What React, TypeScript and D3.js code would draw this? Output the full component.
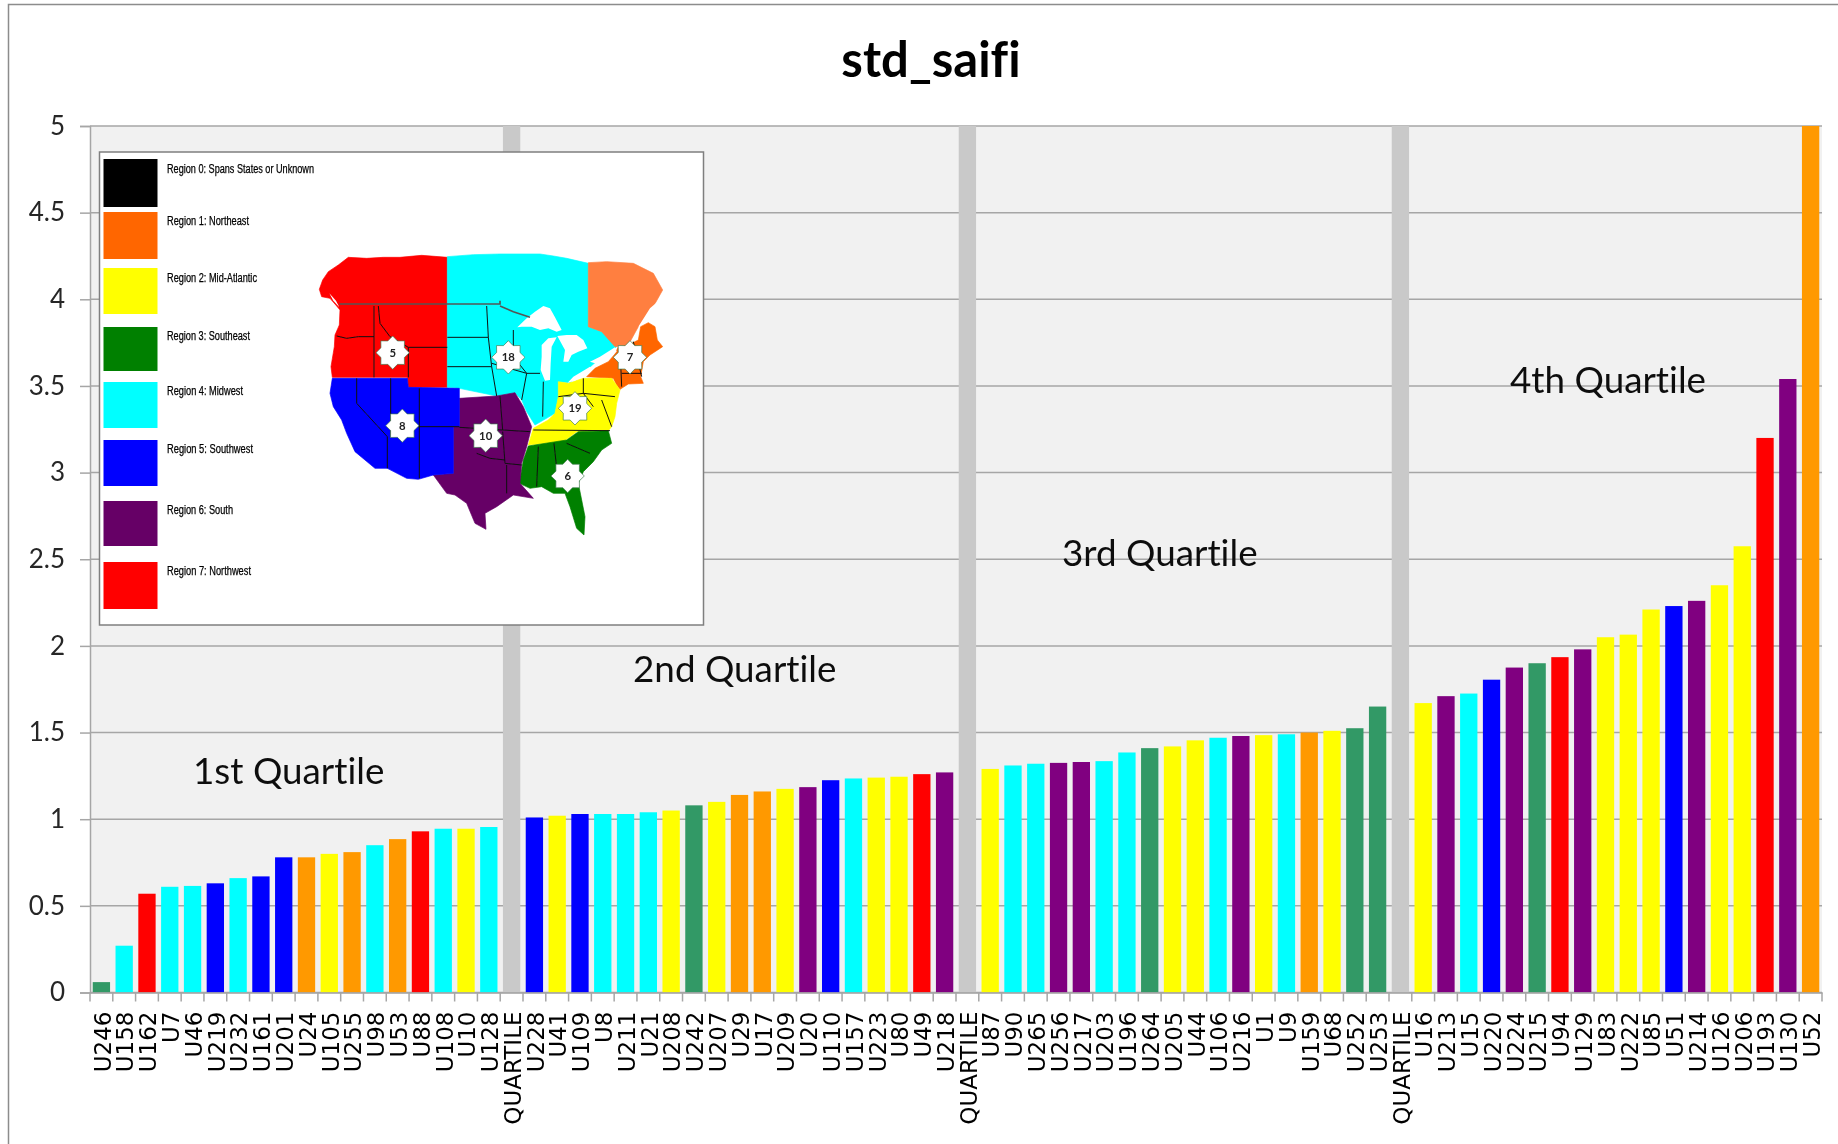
import { useEffect, useRef } from "react";
import * as d3 from "d3";

const W = 1838;
const H = 1144;

const categories = [
  "U246", "U158", "U162", "U7", "U46", "U219", "U232", "U161", "U201", "U24", "U105", "U255", "U98", "U53", "U88", "U108", "U10", "U128", "QUARTILE",
  "U228", "U41", "U109", "U8", "U211", "U21", "U208", "U242", "U207", "U29", "U17", "U209", "U20", "U110", "U157", "U223", "U80", "U49", "U218", "QUARTILE ",
  "U87", "U90", "U265", "U256", "U217", "U203", "U196", "U264", "U205", "U44", "U106", "U216", "U1", "U9", "U159", "U68", "U252", "U253", "QUARTILE  ",
  "U16", "U213", "U15", "U220", "U224", "U215", "U94", "U129", "U83", "U222", "U85", "U51", "U214", "U126", "U206", "U193", "U130", "U52",
];

const values = [
  0.06, 0.27, 0.57, 0.61, 0.615, 0.63, 0.66, 0.67, 0.78, 0.78, 0.8, 0.81, 0.85, 0.885, 0.93, 0.945, 0.945, 0.955, 5,
  1.01, 1.02, 1.03, 1.03, 1.03, 1.04, 1.05, 1.08, 1.1, 1.14, 1.16, 1.175, 1.185, 1.225, 1.235, 1.24, 1.245, 1.26, 1.27, 5,
  1.29, 1.31, 1.32, 1.325, 1.33, 1.335, 1.385, 1.41, 1.42, 1.455, 1.47, 1.48, 1.485, 1.49, 1.5, 1.51, 1.525, 1.65, 5,
  1.67, 1.71, 1.725, 1.805, 1.875, 1.9, 1.935, 1.98, 2.05, 2.065, 2.21, 2.23, 2.26, 2.35, 2.575, 3.2, 3.54, 5,
];

// g green, c cyan, r red, b blue, o orange, y yellow, p purple, q quartile marker
const regionCodes =
  "gcrccbcbboyocorcyc" + "q" +
  "bybcccygyooypbcyyrp" + "q" +
  "yccppccgyycpycoygg" + "q" +
  "ypcbpgrpyyybpyyrpo";

const codeColor: Record<string, string> = {
  g: "#339966",
  c: "#00ffff",
  r: "#ff0000",
  b: "#0000ff",
  o: "#ff9900",
  y: "#ffff00",
  p: "#800080",
  q: "#c9c9c9",
};

const yTicks = [0, 0.5, 1, 1.5, 2, 2.5, 3, 3.5, 4, 4.5, 5];

const quartileNotes = [
  { text: "1st Quartile", x: 193, y: 784 },
  { text: "2nd Quartile", x: 633, y: 682 },
  { text: "3rd Quartile", x: 1062, y: 566 },
  { text: "4th Quartile", x: 1510, y: 393 },
];

const legendNames = [
  "Region 0:  Spans States or Unknown",
  "Region 1:  Northeast",
  "Region 2:  Mid-Atlantic",
  "Region 3:  Southeast",
  "Region 4:  Midwest",
  "Region 5:  Southwest",
  "Region 6:  South",
  "Region 7:  Northwest",
];
const legendColors = ["#000000", "#ff6600", "#ffff00", "#008000", "#00ffff", "#0000ff", "#660066", "#ff0000"];
const legendTop = [159, 212, 268, 327, 382, 440, 501, 562];
const legendBottom = [207, 259, 314, 371, 428, 486, 546, 609];
const legendTextY = [173, 225, 282, 340, 395, 453, 514, 575];
const legendTextW = [147, 82, 90, 83, 76, 86, 66, 84];

// inset map outlines, traced in 3x crop pixels
type Pts = [number, number][];
const mapRegions: { fill: string; pts: Pts }[] = [
  { fill: "#ff0000", pts: [[58, 178], [68, 150], [85, 125], [115, 105], [145, 82], [200, 85], [250, 82], [300, 82], [365, 76], [442, 82], [442, 472], [325, 472], [322, 442], [97, 442], [93, 410], [103, 350], [105, 315], [118, 285], [120, 240], [110, 228], [90, 205], [65, 200]] },
  { fill: "#00ffff", pts: [[442, 80], [520, 74], [600, 72], [720, 72], [760, 78], [800, 85], [865, 100], [865, 290], [905, 305], [935, 335], [950, 350], [900, 385], [860, 420], [810, 458], [775, 455], [775, 500], [765, 550], [705, 585], [680, 545], [665, 510], [645, 488], [590, 498], [478, 475], [442, 472]] },
  { fill: "#ff7f40", pts: [[865, 98], [920, 95], [1000, 100], [1060, 130], [1088, 180], [1060, 230], [1015, 290], [985, 345], [945, 350], [905, 305], [865, 290]] },
  { fill: "#ff6600", pts: [[860, 440], [885, 415], [925, 395], [945, 372], [955, 350], [985, 345], [1015, 330], [1022, 290], [1045, 278], [1065, 290], [1072, 330], [1088, 350], [1050, 375], [1030, 395], [1022, 440], [1030, 460], [985, 462], [960, 478], [950, 465], [940, 445]] },
  { fill: "#ffff00", pts: [[775, 455], [805, 460], [850, 445], [935, 445], [960, 480], [950, 520], [945, 560], [935, 590], [925, 602], [830, 605], [790, 635], [685, 645], [700, 595], [745, 570], [765, 550], [775, 500]] },
  { fill: "#008000", pts: [[685, 648], [800, 630], [835, 605], [925, 602], [935, 640], [905, 660], [880, 695], [850, 725], [835, 760], [855, 860], [852, 915], [830, 895], [810, 830], [795, 790], [760, 790], [725, 770], [690, 775], [658, 760], [670, 690]] },
  { fill: "#660066", pts: [[478, 505], [590, 498], [645, 488], [670, 530], [695, 590], [680, 650], [665, 700], [660, 760], [700, 805], [640, 795], [590, 830], [555, 850], [558, 898], [525, 880], [500, 820], [465, 795], [440, 790], [400, 735], [460, 730], [460, 590], [478, 590]] },
  { fill: "#0000ff", pts: [[97, 445], [322, 445], [325, 472], [478, 475], [478, 590], [460, 590], [460, 730], [400, 735], [355, 748], [320, 745], [262, 715], [225, 715], [165, 665], [140, 610], [125, 570], [100, 530], [90, 490]] },
];
const mapLakes: Pts[] = [
  [[652, 292], [680, 265], [705, 245], [730, 228], [750, 235], [765, 262], [785, 300], [770, 305], [745, 295], [720, 300], [695, 290], [665, 290]],
  [[725, 345], [745, 325], [770, 322], [755, 350], [752, 400], [750, 450], [735, 452], [722, 420], [725, 380]],
  [[772, 318], [800, 315], [830, 315], [850, 330], [862, 355], [835, 365], [815, 375], [805, 395], [790, 395], [795, 360]],
  [[803, 458], [820, 440], [870, 410], [880, 418], [850, 435], [825, 452]],
  [[870, 395], [900, 380], [945, 352], [950, 365], [925, 385], [885, 400]],
  [[88, 190], [108, 212], [118, 232], [100, 212]],
  [[1015, 290], [1050, 235], [1085, 205], [1060, 235], [1025, 285]],
];
const mapBorders: Pts[] = [
  [[222, 228], [222, 442]],
  [[235, 228], [240, 280], [270, 320], [325, 352]],
  [[110, 318], [140, 325], [175, 320], [222, 320]],
  [[325, 352], [442, 352]],
  [[325, 352], [325, 442]],
  [[170, 445], [170, 520], [262, 620], [262, 715]],
  [[272, 445], [272, 620]],
  [[358, 475], [358, 745]],
  [[272, 590], [478, 590]],
  [[442, 322], [565, 322]],
  [[442, 410], [575, 410]],
  [[560, 228], [565, 322], [575, 410], [590, 498]],
  [[575, 400], [680, 430], [665, 510]],
  [[640, 300], [640, 380], [680, 430], [720, 430]],
  [[730, 455], [728, 560]],
  [[600, 498], [608, 600]],
  [[478, 592], [690, 605]],
  [[608, 605], [615, 700], [665, 705]],
  [[530, 670], [570, 685], [615, 690]],
  [[620, 705], [620, 790]],
  [[850, 445], [850, 490]],
  [[775, 500], [850, 490], [945, 500]],
  [[850, 490], [880, 530]],
  [[715, 650], [710, 770]],
  [[762, 640], [775, 760], [840, 735]],
  [[800, 640], [870, 670]],
  [[700, 600], [930, 602]],
  [[960, 350], [965, 470]],
  [[1000, 335], [1025, 440]],
  [[965, 430], [1025, 430]],
  [[905, 510], [935, 590]],
];
const borderLine: Pts[] = [
  [[118, 222], [600, 222], [600, 212]],
  [[600, 228], [640, 245], [690, 262]],
];
const mapStars = [
  { label: "5", x: 278, y: 368 },
  { label: "18", x: 625, y: 382 },
  { label: "7", x: 990, y: 382 },
  { label: "19", x: 825, y: 535 },
  { label: "8", x: 307, y: 587 },
  { label: "10", x: 557, y: 617 },
  { label: "6", x: 803, y: 738 },
];

function App() {
  const svgRef = useRef<SVGSVGElement>(null);

  useEffect(() => {
    const svg = d3.select(svgRef.current);
    svg.selectAll("*").remove();

    const left = 90;
    const right = 1822;
    const top = 126;
    const bottom = 992.5;

    const defs = svg.append("defs");
    defs.append("filter").attr("id", "soft").append("feGaussianBlur").attr("stdDeviation", 0.5);

    const root = svg.append("g").attr("filter", "url(#soft)").style("font-variant-ligatures", "none");

    // outer chart frame
    root
      .append("path")
      .attr("d", `M8.5,${H}V4.5H${W}`)
      .attr("fill", "none")
      .attr("stroke", "#8c8c8c")
      .attr("stroke-width", 1.5);

    root
      .append("text")
      .text("std_saifi")
      .attr("x", 931)
      .attr("y", 77)
      .attr("text-anchor", "middle")
      .attr("font-family", "Lato")
      .attr("font-weight", 700)
      .attr("font-size", 49)
      .attr("fill", "#000");

    // scales
    const x = d3.scaleBand<string>().domain(categories).range([left, right]).paddingInner(0.24).paddingOuter(0.12);
    const y = d3.scaleLinear().domain([0, 5]).range([bottom, top]);

    root
      .append("rect")
      .attr("x", left)
      .attr("y", top)
      .attr("width", right - left)
      .attr("height", bottom - top)
      .attr("fill", "#f1f1f1");

    // y axis and gridlines
    const yAxis = d3.axisLeft(y).tickValues(yTicks).tickSize(10).tickPadding(15).tickFormat(d3.format("~g") as any);
    const yG = root.append("g").attr("transform", `translate(${left},0)`).call(yAxis);
    yG.select(".domain").attr("stroke", "#a6a6a6").attr("stroke-width", 1.5);
    yG.selectAll(".tick line").attr("stroke", "#a6a6a6").attr("stroke-width", 1.5);
    yG.selectAll("text").attr("font-family", "Lato").attr("font-size", 26).attr("fill", "#262626");
    root
      .append("g")
      .selectAll("line")
      .data(yTicks)
      .join("line")
      .attr("x1", left)
      .attr("x2", right)
      .attr("y1", (d) => y(d))
      .attr("y2", (d) => y(d))
      .attr("stroke", "#a6a6a6")
      .attr("stroke-width", 1.5);

    // bars
    root
      .append("g")
      .selectAll("rect")
      .data(categories)
      .join("rect")
      .attr("x", (d) => x(d)!)
      .attr("y", (d, i) => y(values[i]))
      .attr("width", x.bandwidth())
      .attr("height", (d, i) => bottom - y(values[i]))
      .attr("fill", (d, i) => codeColor[regionCodes[i]]);

    // x axis, rotated labels with ticks on the band edges
    const xAxis = d3.axisBottom(x).tickSize(0).tickPadding(0);
    const xG = root.append("g").attr("transform", `translate(0,${bottom})`).call(xAxis);
    xG.select(".domain").attr("stroke", "#a6a6a6").attr("stroke-width", 1.5);
    xG.selectAll("text")
      .attr("transform", "rotate(-90)")
      .attr("text-anchor", "end")
      .attr("x", -19)
      .attr("y", 1)
      .attr("dy", "0.36em")
      .attr("font-family", "DejaVu Sans")
      .attr("font-size", 23)
      .attr("fill", "#000");
    root
      .append("g")
      .selectAll("line")
      .data(d3.range(categories.length + 1))
      .join("line")
      .attr("x1", (i) => left + i * ((right - left) / categories.length))
      .attr("x2", (i) => left + i * ((right - left) / categories.length))
      .attr("y1", bottom)
      .attr("y2", bottom + 9)
      .attr("stroke", "#a6a6a6")
      .attr("stroke-width", 1.5);

    // quartile notes
    root
      .append("g")
      .selectAll("text")
      .data(quartileNotes)
      .join("text")
      .text((d) => d.text)
      .attr("x", (d) => d.x)
      .attr("y", (d) => d.y)
      .attr("font-family", "Lato")
      .attr("font-size", 36.8)
      .attr("fill", "#111");

    // legend and map inset
    const inset = root.append("g");
    inset
      .append("rect")
      .attr("x", 99.5)
      .attr("y", 152)
      .attr("width", 604)
      .attr("height", 473)
      .attr("fill", "#fff")
      .attr("stroke", "#7f7f7f")
      .attr("stroke-width", 1.5);
    inset
      .append("g")
      .selectAll("rect")
      .data(legendColors)
      .join("rect")
      .attr("x", 103.5)
      .attr("y", (d, i) => legendTop[i])
      .attr("width", 54)
      .attr("height", (d, i) => legendBottom[i] - legendTop[i])
      .attr("fill", (d) => d);
    inset
      .append("g")
      .selectAll("text")
      .data(legendNames)
      .join("text")
      .text((d) => d)
      .attr("x", 167)
      .attr("y", (d, i) => legendTextY[i])
      .attr("textLength", (d, i) => legendTextW[i])
      .attr("lengthAdjust", "spacingAndGlyphs")
      .attr("font-family", "Liberation Sans")
      .attr("font-size", 12)
      .attr("stroke", "#000")
      .attr("stroke-width", 0.25)
      .attr("fill", "#000");

    const map = inset.append("g").attr("transform", "translate(300,230) scale(0.33333)");
    const line = d3.line();
    map
      .selectAll("path.region")
      .data(mapRegions)
      .join("path")
      .attr("class", "region")
      .attr("d", (d) => line(d.pts) + "Z")
      .attr("fill", (d) => d.fill)
      .attr("stroke", (d) => d.fill)
      .attr("stroke-width", 2);
    map
      .selectAll("path.lake")
      .data(mapLakes)
      .join("path")
      .attr("class", "lake")
      .attr("d", (d) => line(d) + "Z")
      .attr("fill", "#fff");
    map
      .selectAll("path.border")
      .data(mapBorders)
      .join("path")
      .attr("class", "border")
      .attr("d", (d) => line(d))
      .attr("fill", "none")
      .attr("stroke", "#111")
      .attr("stroke-width", 3);
    map
      .selectAll("path.intl")
      .data(borderLine)
      .join("path")
      .attr("class", "intl")
      .attr("d", (d) => line(d))
      .attr("fill", "none")
      .attr("stroke", "#555")
      .attr("stroke-width", 5);

    const star = d3
      .lineRadial<number>()
      .angle((d) => (d * Math.PI) / 8)
      .radius((d) => (d % 2 === 0 ? 50 : 38));
    const stars = map
      .selectAll("g.star")
      .data(mapStars)
      .join("g")
      .attr("class", "star")
      .attr("transform", (d) => `translate(${d.x},${d.y})`);
    stars
      .append("path")
      .attr("d", star(d3.range(16))! + "Z")
      .attr("fill", "#fff")
      .attr("stroke", "#3c7a4e")
      .attr("stroke-width", 2);
    stars
      .append("text")
      .text((d) => d.label)
      .attr("text-anchor", "middle")
      .attr("dy", "0.36em")
      .attr("font-family", "Lato")
      .attr("font-weight", 700)
      .attr("font-size", 34)
      .attr("fill", "#222");
  }, []);

  return <svg ref={svgRef} width={W} height={H} style={{ position: "absolute", left: 0, top: 0, background: "#fff" }}></svg>;
}

export default App;
